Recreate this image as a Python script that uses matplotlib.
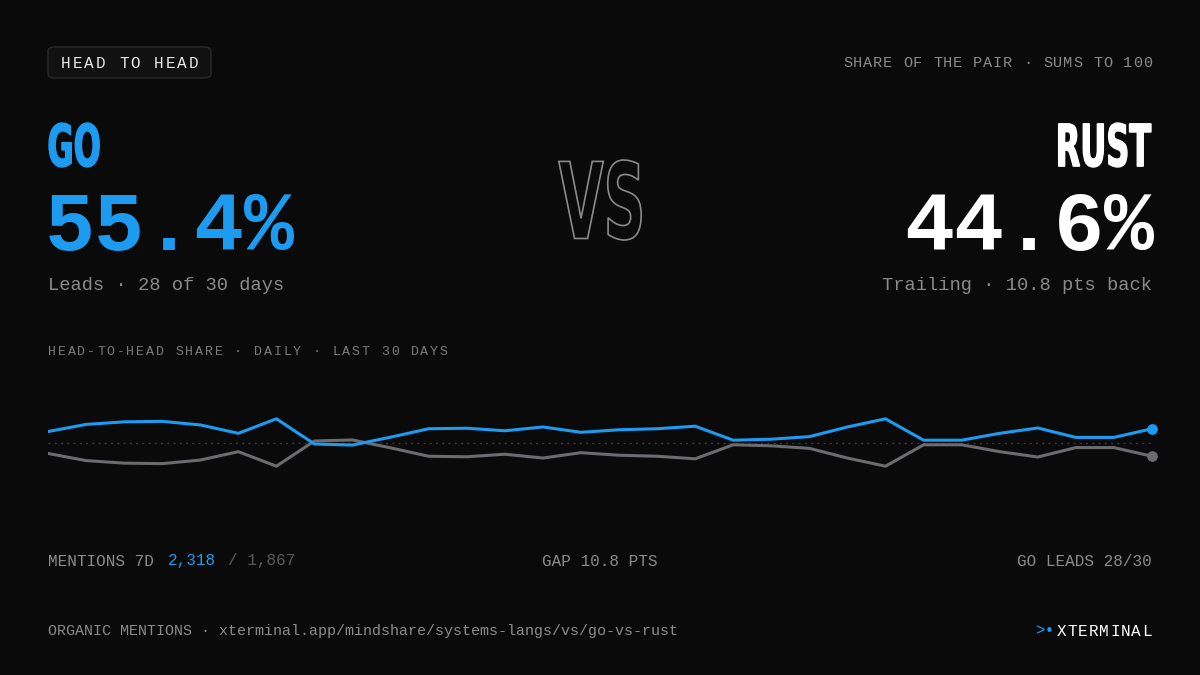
import matplotlib.pyplot as plt
from matplotlib.patches import FancyBboxPatch, PathPatch
from matplotlib.textpath import TextPath
from matplotlib.font_manager import FontProperties
from matplotlib.transforms import Affine2D, IdentityTransform

go_share = [54.3, 57.1, 58.1, 58.3, 56.9, 53.6, 59.3, 49.4, 49.0, 52.1,
            55.4, 55.6, 54.6, 56.1, 54.0, 55.0, 55.4, 56.4, 50.9, 51.3,
            52.3, 56.1, 59.3, 50.9, 50.9, 53.6, 55.7, 52.0, 52.0, 55.4]
rust_share = [100 - v for v in go_share]
days = list(range(len(go_share)))

BG = '#0a0a0a'
BLUE = '#1d9bf0'
GREY = '#6b6b70'
MUTED = '#8a8a8a'
MONO = ['Liberation Mono', 'DejaVu Sans Mono']

W, H = 1200, 675
fig = plt.figure(figsize=(12, 6.75), dpi=100, facecolor=BG)

def t(x, y, s, **kw):
    fig.text(x / W, 1 - y / H, s, **kw)

def tracked(x, y, s, step, ha='left', **kw):
    # monospace text with extra letter spacing
    if ha == 'right':
        x = x - step * (len(s) - 1) - step * 0.9
    for i, ch in enumerate(s):
        t(x + i * step, y, ch, family=MONO, ha='left', va='center', **kw)

def condensed(x, y, s, height, color, ha='left', fill=True):
    # bold narrow display type: squeeze a text path horizontally
    fp = FontProperties(family='DejaVu Sans', weight='bold')
    tp = TextPath((0, 0), s, size=100, prop=fp)
    ext = tp.get_extents()
    sy = height / ext.height
    sx = sy * 0.55
    w = ext.width * sx
    x0 = x - w if ha == 'right' else (x - w / 2 if ha == 'center' else x)
    tr = Affine2D().translate(-ext.x0, -ext.y0).scale(sx, sy).translate(x0, H - y)
    if fill:
        p = PathPatch(tr.transform_path(tp), facecolor=color, edgecolor=color,
                      lw=1.0, transform=IdentityTransform())
    else:
        p = PathPatch(tr.transform_path(tp), facecolor='none', edgecolor=color,
                      lw=1.2, transform=IdentityTransform())
    fig.patches.append(p)

# badge
fig.patches.append(FancyBboxPatch((48 / W, 1 - 78 / H), 163 / W, 31 / H,
                                  boxstyle='round,pad=0,rounding_size=0.006',
                                  transform=fig.transFigure, facecolor='#111111',
                                  edgecolor='#2a2a2a', lw=1))
tracked(61, 63, 'HEAD TO HEAD', 11.6, color='#e8e8e8', fontsize=11.5)
tracked(1152, 63, 'SHARE OF THE PAIR · SUMS TO 100', 10.0, ha='right',
        color=MUTED, fontsize=11)

# headline
condensed(49, 167, 'GO', 44, BLUE)
condensed(1151, 167, 'RUST', 44, 'white', ha='right')
condensed(600, 240, 'VS', 80, '#8a8a8a', ha='center', fill=False)
t(45, 228, '55.4%', color=BLUE, family=MONO, fontsize=60, weight='bold',
  ha='left', va='center')
t(1154, 228, '44.6%', color='white', family=MONO, fontsize=60, weight='bold',
  ha='right', va='center')
t(48, 286, 'Leads · 28 of 30 days', color=MUTED, family=MONO, fontsize=13.5,
  ha='left', va='center')
t(1152, 286, 'Trailing · 10.8 pts back', color=MUTED, family=MONO,
  fontsize=13.5, ha='right', va='center')

tracked(48, 352, 'HEAD-TO-HEAD SHARE · DAILY · LAST 30 DAYS', 9.8,
        color='#7a7a7a', fontsize=9.5)

# chart
ax = fig.add_axes([48 / W, 1 - 510 / H, 1104 / W, 135 / H])
ax.set_facecolor(BG)
ax.axhline(50, color='#3a3a3a', lw=1, ls=(0, (1.5, 3)))
ax.plot(days, rust_share, color=GREY, lw=2.2, solid_joinstyle='round')
ax.plot(days, go_share, color=BLUE, lw=2.2, solid_joinstyle='round')
ax.scatter([days[-1]], [rust_share[-1]], color=GREY, s=45, zorder=5, clip_on=False)
ax.scatter([days[-1]], [go_share[-1]], color=BLUE, s=45, zorder=5, clip_on=False)
ax.set_xlim(0, len(days) - 1)
ax.set_ylim(23.5, 76.5)
ax.axis('off')

# stats row
t(48, 561, 'MENTIONS 7D ', color=MUTED, family=MONO, fontsize=11.5,
  ha='left', va='center')
t(168, 561, '2,318', color=BLUE, family=MONO, fontsize=11.5, ha='left',
  va='center')
t(228, 561, '/ 1,867', color='#5a5a5a', family=MONO, fontsize=11.5,
  ha='left', va='center')
t(600, 561, 'GAP 10.8 PTS', color=MUTED, family=MONO, fontsize=11.5,
  ha='center', va='center')
t(1152, 561, 'GO LEADS 28/30', color=MUTED, family=MONO, fontsize=11.5,
  ha='right', va='center')

# footer
t(48, 631, 'ORGANIC MENTIONS · xterminal.app/mindshare/systems-langs/vs/go-vs-rust',
  color=MUTED, family=MONO, fontsize=10.8, ha='left', va='center')
tracked(1057, 631, 'XTERMINAL', 10.6, color='white', fontsize=11.5)
t(1035, 631, '>•', color=BLUE, family=MONO, fontsize=11.5, ha='left',
  va='center')

fig.savefig('out.png', dpi=100, facecolor=BG)
